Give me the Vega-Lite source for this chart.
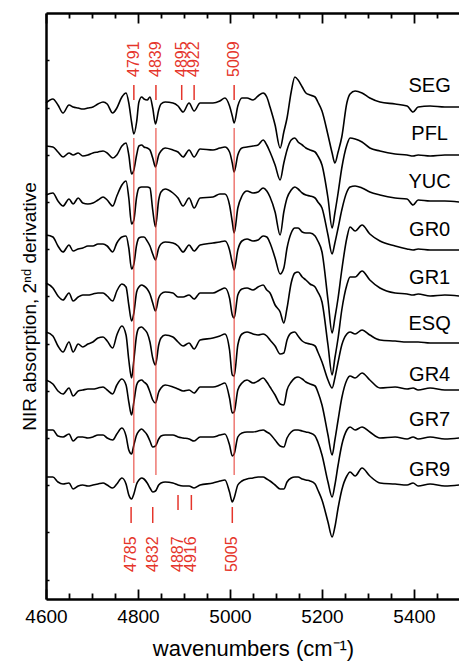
{
"$schema": "https://vega.github.io/schema/vega-lite/v6.json",
"width": 414, "height": 586,
"autosize": {"type": "none"},
"padding": {"left": 46, "top": 13, "right": 0, "bottom": 62},
"config": {"view": {"stroke": null}, "font": "Liberation Sans", "axis": {"grid": false}},
"datasets": {
"spectra": [
{"t":"SEG","w":4600,"v":477},{"t":"SEG","w":4615,"v":481},{"t":"SEG","w":4626,"v":475},{"t":"SEG","w":4637,"v":467},{"t":"SEG","w":4650,"v":475},{"t":"SEG","w":4659,"v":473},{"t":"SEG","w":4670,"v":472},{"t":"SEG","w":4680,"v":471},{"t":"SEG","w":4691,"v":472},{"t":"SEG","w":4702,"v":473},
{"t":"SEG","w":4713,"v":476},{"t":"SEG","w":4724,"v":478},{"t":"SEG","w":4733,"v":476},{"t":"SEG","w":4745,"v":467},{"t":"SEG","w":4754,"v":472},{"t":"SEG","w":4765,"v":483},{"t":"SEG","w":4774,"v":487},{"t":"SEG","w":4780,"v":477},{"t":"SEG","w":4786,"v":458},{"t":"SEG","w":4791,"v":446},
{"t":"SEG","w":4797,"v":458},{"t":"SEG","w":4802,"v":478},{"t":"SEG","w":4808,"v":483},{"t":"SEG","w":4813,"v":481},{"t":"SEG","w":4820,"v":480},{"t":"SEG","w":4826,"v":483},{"t":"SEG","w":4832,"v":472},{"t":"SEG","w":4838,"v":456},{"t":"SEG","w":4845,"v":470},{"t":"SEG","w":4850,"v":476},
{"t":"SEG","w":4859,"v":478},{"t":"SEG","w":4876,"v":477},{"t":"SEG","w":4887,"v":474},{"t":"SEG","w":4898,"v":468},{"t":"SEG","w":4911,"v":477},{"t":"SEG","w":4922,"v":469},{"t":"SEG","w":4935,"v":477},{"t":"SEG","w":4963,"v":477},{"t":"SEG","w":4978,"v":479},{"t":"SEG","w":4989,"v":482},
{"t":"SEG","w":4999,"v":474},{"t":"SEG","w":5005,"v":464},{"t":"SEG","w":5009,"v":457},{"t":"SEG","w":5017,"v":474},{"t":"SEG","w":5026,"v":482},{"t":"SEG","w":5037,"v":482},{"t":"SEG","w":5050,"v":480},{"t":"SEG","w":5061,"v":484},{"t":"SEG","w":5072,"v":487},{"t":"SEG","w":5080,"v":483},
{"t":"SEG","w":5087,"v":473},{"t":"SEG","w":5098,"v":455},{"t":"SEG","w":5109,"v":432},{"t":"SEG","w":5117,"v":448},{"t":"SEG","w":5124,"v":462},{"t":"SEG","w":5133,"v":488},{"t":"SEG","w":5141,"v":503},{"t":"SEG","w":5148,"v":500},{"t":"SEG","w":5157,"v":493},{"t":"SEG","w":5165,"v":487},
{"t":"SEG","w":5174,"v":485},{"t":"SEG","w":5185,"v":483},{"t":"SEG","w":5191,"v":478},{"t":"SEG","w":5200,"v":469},{"t":"SEG","w":5213,"v":445},{"t":"SEG","w":5222,"v":427},{"t":"SEG","w":5228,"v":417},{"t":"SEG","w":5235,"v":428},{"t":"SEG","w":5243,"v":443},{"t":"SEG","w":5254,"v":477},
{"t":"SEG","w":5261,"v":486},{"t":"SEG","w":5272,"v":489},{"t":"SEG","w":5287,"v":487},{"t":"SEG","w":5304,"v":482},{"t":"SEG","w":5326,"v":478},{"t":"SEG","w":5359,"v":476},{"t":"SEG","w":5385,"v":474},{"t":"SEG","w":5398,"v":468},{"t":"SEG","w":5409,"v":473},{"t":"SEG","w":5435,"v":474},
{"t":"SEG","w":5467,"v":473},{"t":"SEG","w":5498,"v":473},
{"t":"PFL","w":4600,"v":434},{"t":"PFL","w":4615,"v":433},{"t":"PFL","w":4626,"v":428},{"t":"PFL","w":4637,"v":423},{"t":"PFL","w":4650,"v":427},{"t":"PFL","w":4659,"v":425},{"t":"PFL","w":4670,"v":427},{"t":"PFL","w":4680,"v":424},{"t":"PFL","w":4691,"v":425},{"t":"PFL","w":4702,"v":427},
{"t":"PFL","w":4713,"v":428},{"t":"PFL","w":4724,"v":429},{"t":"PFL","w":4733,"v":427},{"t":"PFL","w":4745,"v":422},{"t":"PFL","w":4754,"v":425},{"t":"PFL","w":4765,"v":434},{"t":"PFL","w":4774,"v":437},{"t":"PFL","w":4780,"v":425},{"t":"PFL","w":4786,"v":406},{"t":"PFL","w":4791,"v":410},
{"t":"PFL","w":4797,"v":425},{"t":"PFL","w":4802,"v":434},{"t":"PFL","w":4808,"v":435},{"t":"PFL","w":4813,"v":433},{"t":"PFL","w":4820,"v":432},{"t":"PFL","w":4826,"v":430},{"t":"PFL","w":4832,"v":422},{"t":"PFL","w":4838,"v":413},{"t":"PFL","w":4845,"v":425},{"t":"PFL","w":4850,"v":429},
{"t":"PFL","w":4859,"v":432},{"t":"PFL","w":4876,"v":430},{"t":"PFL","w":4887,"v":428},{"t":"PFL","w":4898,"v":423},{"t":"PFL","w":4911,"v":430},{"t":"PFL","w":4922,"v":423},{"t":"PFL","w":4935,"v":431},{"t":"PFL","w":4963,"v":430},{"t":"PFL","w":4978,"v":432},{"t":"PFL","w":4989,"v":433},
{"t":"PFL","w":4999,"v":428},{"t":"PFL","w":5005,"v":417},{"t":"PFL","w":5009,"v":408},{"t":"PFL","w":5017,"v":425},{"t":"PFL","w":5026,"v":432},{"t":"PFL","w":5037,"v":433},{"t":"PFL","w":5050,"v":434},{"t":"PFL","w":5061,"v":435},{"t":"PFL","w":5072,"v":440},{"t":"PFL","w":5080,"v":435},
{"t":"PFL","w":5087,"v":428},{"t":"PFL","w":5098,"v":415},{"t":"PFL","w":5109,"v":400},{"t":"PFL","w":5117,"v":417},{"t":"PFL","w":5124,"v":430},{"t":"PFL","w":5133,"v":440},{"t":"PFL","w":5141,"v":442},{"t":"PFL","w":5148,"v":438},{"t":"PFL","w":5157,"v":435},{"t":"PFL","w":5165,"v":432},
{"t":"PFL","w":5174,"v":430},{"t":"PFL","w":5185,"v":428},{"t":"PFL","w":5191,"v":424},{"t":"PFL","w":5200,"v":415},{"t":"PFL","w":5213,"v":382},{"t":"PFL","w":5222,"v":352},{"t":"PFL","w":5228,"v":367},{"t":"PFL","w":5235,"v":387},{"t":"PFL","w":5243,"v":412},{"t":"PFL","w":5254,"v":435},
{"t":"PFL","w":5261,"v":442},{"t":"PFL","w":5272,"v":441},{"t":"PFL","w":5287,"v":438},{"t":"PFL","w":5304,"v":432},{"t":"PFL","w":5326,"v":429},{"t":"PFL","w":5359,"v":426},{"t":"PFL","w":5385,"v":425},{"t":"PFL","w":5398,"v":424},{"t":"PFL","w":5409,"v":425},{"t":"PFL","w":5435,"v":424},
{"t":"PFL","w":5467,"v":425},{"t":"PFL","w":5498,"v":425},
{"t":"YUC","w":4600,"v":385},{"t":"YUC","w":4615,"v":387},{"t":"YUC","w":4626,"v":379},{"t":"YUC","w":4637,"v":374},{"t":"YUC","w":4650,"v":381},{"t":"YUC","w":4659,"v":376},{"t":"YUC","w":4670,"v":382},{"t":"YUC","w":4680,"v":377},{"t":"YUC","w":4691,"v":376},{"t":"YUC","w":4702,"v":377},
{"t":"YUC","w":4713,"v":380},{"t":"YUC","w":4724,"v":383},{"t":"YUC","w":4733,"v":380},{"t":"YUC","w":4745,"v":374},{"t":"YUC","w":4754,"v":384},{"t":"YUC","w":4765,"v":395},{"t":"YUC","w":4774,"v":399},{"t":"YUC","w":4780,"v":382},{"t":"YUC","w":4786,"v":356},{"t":"YUC","w":4791,"v":360},
{"t":"YUC","w":4797,"v":383},{"t":"YUC","w":4802,"v":392},{"t":"YUC","w":4808,"v":393},{"t":"YUC","w":4813,"v":393},{"t":"YUC","w":4820,"v":393},{"t":"YUC","w":4826,"v":392},{"t":"YUC","w":4832,"v":370},{"t":"YUC","w":4838,"v":353},{"t":"YUC","w":4845,"v":380},{"t":"YUC","w":4850,"v":388},
{"t":"YUC","w":4859,"v":391},{"t":"YUC","w":4876,"v":387},{"t":"YUC","w":4887,"v":382},{"t":"YUC","w":4898,"v":374},{"t":"YUC","w":4911,"v":382},{"t":"YUC","w":4922,"v":372},{"t":"YUC","w":4935,"v":382},{"t":"YUC","w":4963,"v":383},{"t":"YUC","w":4978,"v":386},{"t":"YUC","w":4989,"v":386},
{"t":"YUC","w":4999,"v":375},{"t":"YUC","w":5005,"v":358},{"t":"YUC","w":5009,"v":347},{"t":"YUC","w":5017,"v":372},{"t":"YUC","w":5026,"v":384},{"t":"YUC","w":5037,"v":389},{"t":"YUC","w":5050,"v":387},{"t":"YUC","w":5061,"v":388},{"t":"YUC","w":5072,"v":392},{"t":"YUC","w":5080,"v":389},
{"t":"YUC","w":5087,"v":383},{"t":"YUC","w":5098,"v":368},{"t":"YUC","w":5109,"v":345},{"t":"YUC","w":5117,"v":368},{"t":"YUC","w":5124,"v":382},{"t":"YUC","w":5133,"v":390},{"t":"YUC","w":5141,"v":393},{"t":"YUC","w":5148,"v":391},{"t":"YUC","w":5157,"v":387},{"t":"YUC","w":5165,"v":385},
{"t":"YUC","w":5174,"v":384},{"t":"YUC","w":5185,"v":382},{"t":"YUC","w":5191,"v":378},{"t":"YUC","w":5200,"v":372},{"t":"YUC","w":5213,"v":345},{"t":"YUC","w":5222,"v":326},{"t":"YUC","w":5228,"v":337},{"t":"YUC","w":5235,"v":352},{"t":"YUC","w":5243,"v":370},{"t":"YUC","w":5254,"v":388},
{"t":"YUC","w":5261,"v":393},{"t":"YUC","w":5272,"v":394},{"t":"YUC","w":5287,"v":392},{"t":"YUC","w":5304,"v":388},{"t":"YUC","w":5326,"v":385},{"t":"YUC","w":5359,"v":382},{"t":"YUC","w":5385,"v":381},{"t":"YUC","w":5398,"v":375},{"t":"YUC","w":5409,"v":380},{"t":"YUC","w":5435,"v":379},
{"t":"YUC","w":5467,"v":379},{"t":"YUC","w":5498,"v":378},
{"t":"GR0","w":4600,"v":345},{"t":"GR0","w":4615,"v":343},{"t":"GR0","w":4626,"v":334},{"t":"GR0","w":4637,"v":328},{"t":"GR0","w":4650,"v":335},{"t":"GR0","w":4659,"v":329},{"t":"GR0","w":4670,"v":331},{"t":"GR0","w":4680,"v":332},{"t":"GR0","w":4691,"v":334},{"t":"GR0","w":4702,"v":334},
{"t":"GR0","w":4713,"v":336},{"t":"GR0","w":4724,"v":336},{"t":"GR0","w":4733,"v":334},{"t":"GR0","w":4745,"v":328},{"t":"GR0","w":4754,"v":337},{"t":"GR0","w":4765,"v":343},{"t":"GR0","w":4774,"v":344},{"t":"GR0","w":4780,"v":332},{"t":"GR0","w":4786,"v":311},{"t":"GR0","w":4791,"v":316},
{"t":"GR0","w":4797,"v":335},{"t":"GR0","w":4802,"v":342},{"t":"GR0","w":4808,"v":343},{"t":"GR0","w":4813,"v":343},{"t":"GR0","w":4820,"v":339},{"t":"GR0","w":4826,"v":334},{"t":"GR0","w":4832,"v":326},{"t":"GR0","w":4838,"v":320},{"t":"GR0","w":4845,"v":332},{"t":"GR0","w":4850,"v":336},
{"t":"GR0","w":4859,"v":338},{"t":"GR0","w":4876,"v":337},{"t":"GR0","w":4887,"v":334},{"t":"GR0","w":4898,"v":328},{"t":"GR0","w":4911,"v":335},{"t":"GR0","w":4922,"v":329},{"t":"GR0","w":4935,"v":335},{"t":"GR0","w":4963,"v":337},{"t":"GR0","w":4978,"v":338},{"t":"GR0","w":4989,"v":339},
{"t":"GR0","w":4999,"v":330},{"t":"GR0","w":5005,"v":317},{"t":"GR0","w":5009,"v":310},{"t":"GR0","w":5017,"v":330},{"t":"GR0","w":5026,"v":339},{"t":"GR0","w":5037,"v":341},{"t":"GR0","w":5050,"v":339},{"t":"GR0","w":5061,"v":340},{"t":"GR0","w":5072,"v":344},{"t":"GR0","w":5080,"v":343},
{"t":"GR0","w":5087,"v":337},{"t":"GR0","w":5098,"v":322},{"t":"GR0","w":5109,"v":306},{"t":"GR0","w":5117,"v":312},{"t":"GR0","w":5124,"v":332},{"t":"GR0","w":5133,"v":347},{"t":"GR0","w":5141,"v":352},{"t":"GR0","w":5148,"v":352},{"t":"GR0","w":5157,"v":348},{"t":"GR0","w":5165,"v":347},
{"t":"GR0","w":5174,"v":347},{"t":"GR0","w":5185,"v":344},{"t":"GR0","w":5191,"v":339},{"t":"GR0","w":5200,"v":328},{"t":"GR0","w":5213,"v":280},{"t":"GR0","w":5222,"v":247},{"t":"GR0","w":5228,"v":262},{"t":"GR0","w":5235,"v":282},{"t":"GR0","w":5243,"v":310},{"t":"GR0","w":5254,"v":342},
{"t":"GR0","w":5261,"v":353},{"t":"GR0","w":5272,"v":349},{"t":"GR0","w":5287,"v":355},{"t":"GR0","w":5304,"v":346},{"t":"GR0","w":5326,"v":339},{"t":"GR0","w":5359,"v":334},{"t":"GR0","w":5385,"v":331},{"t":"GR0","w":5398,"v":330},{"t":"GR0","w":5409,"v":331},{"t":"GR0","w":5435,"v":330},
{"t":"GR0","w":5467,"v":330},{"t":"GR0","w":5498,"v":330},
{"t":"GR1","w":4600,"v":297},{"t":"GR1","w":4615,"v":292},{"t":"GR1","w":4626,"v":284},{"t":"GR1","w":4637,"v":280},{"t":"GR1","w":4650,"v":287},{"t":"GR1","w":4659,"v":279},{"t":"GR1","w":4670,"v":283},{"t":"GR1","w":4680,"v":285},{"t":"GR1","w":4691,"v":285},{"t":"GR1","w":4702,"v":286},
{"t":"GR1","w":4713,"v":287},{"t":"GR1","w":4724,"v":287},{"t":"GR1","w":4733,"v":284},{"t":"GR1","w":4745,"v":279},{"t":"GR1","w":4754,"v":289},{"t":"GR1","w":4765,"v":296},{"t":"GR1","w":4774,"v":293},{"t":"GR1","w":4780,"v":275},{"t":"GR1","w":4786,"v":259},{"t":"GR1","w":4791,"v":267},
{"t":"GR1","w":4797,"v":288},{"t":"GR1","w":4802,"v":293},{"t":"GR1","w":4808,"v":295},{"t":"GR1","w":4813,"v":294},{"t":"GR1","w":4820,"v":291},{"t":"GR1","w":4826,"v":286},{"t":"GR1","w":4832,"v":277},{"t":"GR1","w":4838,"v":269},{"t":"GR1","w":4845,"v":282},{"t":"GR1","w":4850,"v":286},
{"t":"GR1","w":4859,"v":288},{"t":"GR1","w":4876,"v":287},{"t":"GR1","w":4887,"v":283},{"t":"GR1","w":4898,"v":283},{"t":"GR1","w":4911,"v":285},{"t":"GR1","w":4922,"v":281},{"t":"GR1","w":4935,"v":287},{"t":"GR1","w":4963,"v":287},{"t":"GR1","w":4978,"v":290},{"t":"GR1","w":4989,"v":292},
{"t":"GR1","w":4999,"v":282},{"t":"GR1","w":5005,"v":265},{"t":"GR1","w":5009,"v":262},{"t":"GR1","w":5017,"v":285},{"t":"GR1","w":5026,"v":291},{"t":"GR1","w":5037,"v":292},{"t":"GR1","w":5050,"v":290},{"t":"GR1","w":5061,"v":293},{"t":"GR1","w":5072,"v":295},{"t":"GR1","w":5080,"v":290},
{"t":"GR1","w":5087,"v":287},{"t":"GR1","w":5098,"v":275},{"t":"GR1","w":5109,"v":268},{"t":"GR1","w":5117,"v":257},{"t":"GR1","w":5124,"v":272},{"t":"GR1","w":5133,"v":297},{"t":"GR1","w":5141,"v":307},{"t":"GR1","w":5148,"v":308},{"t":"GR1","w":5157,"v":303},{"t":"GR1","w":5165,"v":300},
{"t":"GR1","w":5174,"v":296},{"t":"GR1","w":5185,"v":293},{"t":"GR1","w":5191,"v":288},{"t":"GR1","w":5200,"v":278},{"t":"GR1","w":5213,"v":235},{"t":"GR1","w":5222,"v":205},{"t":"GR1","w":5228,"v":222},{"t":"GR1","w":5235,"v":242},{"t":"GR1","w":5243,"v":270},{"t":"GR1","w":5254,"v":295},
{"t":"GR1","w":5261,"v":303},{"t":"GR1","w":5272,"v":303},{"t":"GR1","w":5287,"v":309},{"t":"GR1","w":5304,"v":300},{"t":"GR1","w":5326,"v":292},{"t":"GR1","w":5359,"v":287},{"t":"GR1","w":5385,"v":286},{"t":"GR1","w":5398,"v":285},{"t":"GR1","w":5409,"v":286},{"t":"GR1","w":5435,"v":284},
{"t":"GR1","w":5467,"v":285},{"t":"GR1","w":5498,"v":284},
{"t":"ESQ","w":4600,"v":248},{"t":"ESQ","w":4615,"v":244},{"t":"ESQ","w":4626,"v":234},{"t":"ESQ","w":4637,"v":228},{"t":"ESQ","w":4650,"v":238},{"t":"ESQ","w":4659,"v":228},{"t":"ESQ","w":4670,"v":236},{"t":"ESQ","w":4680,"v":233},{"t":"ESQ","w":4691,"v":236},{"t":"ESQ","w":4702,"v":238},
{"t":"ESQ","w":4713,"v":242},{"t":"ESQ","w":4724,"v":243},{"t":"ESQ","w":4733,"v":239},{"t":"ESQ","w":4745,"v":232},{"t":"ESQ","w":4754,"v":245},{"t":"ESQ","w":4765,"v":254},{"t":"ESQ","w":4774,"v":245},{"t":"ESQ","w":4780,"v":220},{"t":"ESQ","w":4786,"v":202},{"t":"ESQ","w":4791,"v":220},
{"t":"ESQ","w":4797,"v":245},{"t":"ESQ","w":4802,"v":252},{"t":"ESQ","w":4808,"v":253},{"t":"ESQ","w":4813,"v":251},{"t":"ESQ","w":4820,"v":247},{"t":"ESQ","w":4826,"v":238},{"t":"ESQ","w":4832,"v":222},{"t":"ESQ","w":4838,"v":215},{"t":"ESQ","w":4845,"v":235},{"t":"ESQ","w":4850,"v":242},
{"t":"ESQ","w":4859,"v":245},{"t":"ESQ","w":4876,"v":243},{"t":"ESQ","w":4887,"v":238},{"t":"ESQ","w":4898,"v":234},{"t":"ESQ","w":4911,"v":237},{"t":"ESQ","w":4922,"v":231},{"t":"ESQ","w":4935,"v":240},{"t":"ESQ","w":4963,"v":242},{"t":"ESQ","w":4978,"v":244},{"t":"ESQ","w":4989,"v":246},
{"t":"ESQ","w":4999,"v":230},{"t":"ESQ","w":5005,"v":205},{"t":"ESQ","w":5009,"v":204},{"t":"ESQ","w":5017,"v":235},{"t":"ESQ","w":5026,"v":246},{"t":"ESQ","w":5037,"v":248},{"t":"ESQ","w":5050,"v":246},{"t":"ESQ","w":5061,"v":245},{"t":"ESQ","w":5072,"v":246},{"t":"ESQ","w":5080,"v":244},
{"t":"ESQ","w":5087,"v":240},{"t":"ESQ","w":5098,"v":234},{"t":"ESQ","w":5109,"v":226},{"t":"ESQ","w":5117,"v":227},{"t":"ESQ","w":5124,"v":240},{"t":"ESQ","w":5133,"v":247},{"t":"ESQ","w":5141,"v":248},{"t":"ESQ","w":5148,"v":244},{"t":"ESQ","w":5157,"v":239},{"t":"ESQ","w":5165,"v":237},
{"t":"ESQ","w":5174,"v":236},{"t":"ESQ","w":5185,"v":234},{"t":"ESQ","w":5191,"v":228},{"t":"ESQ","w":5200,"v":218},{"t":"ESQ","w":5213,"v":200},{"t":"ESQ","w":5222,"v":192},{"t":"ESQ","w":5228,"v":202},{"t":"ESQ","w":5235,"v":218},{"t":"ESQ","w":5243,"v":235},{"t":"ESQ","w":5254,"v":246},
{"t":"ESQ","w":5261,"v":248},{"t":"ESQ","w":5272,"v":246},{"t":"ESQ","w":5287,"v":250},{"t":"ESQ","w":5304,"v":245},{"t":"ESQ","w":5326,"v":240},{"t":"ESQ","w":5359,"v":239},{"t":"ESQ","w":5385,"v":238},{"t":"ESQ","w":5398,"v":238},{"t":"ESQ","w":5409,"v":238},{"t":"ESQ","w":5435,"v":237},
{"t":"ESQ","w":5467,"v":237},{"t":"ESQ","w":5498,"v":237},
{"t":"GR4","w":4600,"v":200},{"t":"GR4","w":4615,"v":196},{"t":"GR4","w":4626,"v":189},{"t":"GR4","w":4637,"v":186},{"t":"GR4","w":4650,"v":192},{"t":"GR4","w":4659,"v":184},{"t":"GR4","w":4670,"v":189},{"t":"GR4","w":4680,"v":190},{"t":"GR4","w":4691,"v":191},{"t":"GR4","w":4702,"v":191},
{"t":"GR4","w":4713,"v":192},{"t":"GR4","w":4724,"v":193},{"t":"GR4","w":4733,"v":190},{"t":"GR4","w":4745,"v":186},{"t":"GR4","w":4754,"v":195},{"t":"GR4","w":4765,"v":201},{"t":"GR4","w":4774,"v":195},{"t":"GR4","w":4780,"v":178},{"t":"GR4","w":4786,"v":165},{"t":"GR4","w":4791,"v":178},
{"t":"GR4","w":4797,"v":195},{"t":"GR4","w":4802,"v":199},{"t":"GR4","w":4808,"v":200},{"t":"GR4","w":4813,"v":198},{"t":"GR4","w":4820,"v":195},{"t":"GR4","w":4826,"v":188},{"t":"GR4","w":4832,"v":180},{"t":"GR4","w":4838,"v":177},{"t":"GR4","w":4845,"v":188},{"t":"GR4","w":4850,"v":192},
{"t":"GR4","w":4859,"v":195},{"t":"GR4","w":4876,"v":193},{"t":"GR4","w":4887,"v":191},{"t":"GR4","w":4898,"v":189},{"t":"GR4","w":4911,"v":190},{"t":"GR4","w":4922,"v":187},{"t":"GR4","w":4935,"v":193},{"t":"GR4","w":4963,"v":193},{"t":"GR4","w":4978,"v":195},{"t":"GR4","w":4989,"v":197},
{"t":"GR4","w":4999,"v":182},{"t":"GR4","w":5005,"v":167},{"t":"GR4","w":5009,"v":168},{"t":"GR4","w":5017,"v":190},{"t":"GR4","w":5026,"v":197},{"t":"GR4","w":5037,"v":200},{"t":"GR4","w":5050,"v":197},{"t":"GR4","w":5061,"v":199},{"t":"GR4","w":5072,"v":202},{"t":"GR4","w":5080,"v":198},
{"t":"GR4","w":5087,"v":193},{"t":"GR4","w":5098,"v":185},{"t":"GR4","w":5109,"v":176},{"t":"GR4","w":5117,"v":175},{"t":"GR4","w":5124,"v":190},{"t":"GR4","w":5133,"v":198},{"t":"GR4","w":5141,"v":202},{"t":"GR4","w":5148,"v":203},{"t":"GR4","w":5157,"v":201},{"t":"GR4","w":5165,"v":198},
{"t":"GR4","w":5174,"v":196},{"t":"GR4","w":5185,"v":194},{"t":"GR4","w":5191,"v":188},{"t":"GR4","w":5200,"v":175},{"t":"GR4","w":5213,"v":145},{"t":"GR4","w":5222,"v":125},{"t":"GR4","w":5228,"v":140},{"t":"GR4","w":5235,"v":160},{"t":"GR4","w":5243,"v":182},{"t":"GR4","w":5254,"v":200},
{"t":"GR4","w":5261,"v":204},{"t":"GR4","w":5272,"v":202},{"t":"GR4","w":5287,"v":207},{"t":"GR4","w":5304,"v":200},{"t":"GR4","w":5326,"v":192},{"t":"GR4","w":5359,"v":193},{"t":"GR4","w":5385,"v":191},{"t":"GR4","w":5398,"v":192},{"t":"GR4","w":5409,"v":190},{"t":"GR4","w":5435,"v":192},
{"t":"GR4","w":5467,"v":190},{"t":"GR4","w":5498,"v":190},
{"t":"GR7","w":4600,"v":150},{"t":"GR7","w":4615,"v":150},{"t":"GR7","w":4626,"v":144},{"t":"GR7","w":4637,"v":143},{"t":"GR7","w":4650,"v":146},{"t":"GR7","w":4659,"v":139},{"t":"GR7","w":4670,"v":143},{"t":"GR7","w":4680,"v":143},{"t":"GR7","w":4691,"v":142},{"t":"GR7","w":4702,"v":143},
{"t":"GR7","w":4713,"v":145},{"t":"GR7","w":4724,"v":145},{"t":"GR7","w":4733,"v":142},{"t":"GR7","w":4745,"v":140},{"t":"GR7","w":4754,"v":146},{"t":"GR7","w":4765,"v":152},{"t":"GR7","w":4774,"v":144},{"t":"GR7","w":4780,"v":130},{"t":"GR7","w":4786,"v":126},{"t":"GR7","w":4791,"v":135},
{"t":"GR7","w":4797,"v":145},{"t":"GR7","w":4802,"v":149},{"t":"GR7","w":4808,"v":151},{"t":"GR7","w":4813,"v":149},{"t":"GR7","w":4820,"v":145},{"t":"GR7","w":4826,"v":139},{"t":"GR7","w":4832,"v":133},{"t":"GR7","w":4838,"v":134},{"t":"GR7","w":4845,"v":141},{"t":"GR7","w":4850,"v":144},
{"t":"GR7","w":4859,"v":145},{"t":"GR7","w":4876,"v":145},{"t":"GR7","w":4887,"v":143},{"t":"GR7","w":4898,"v":142},{"t":"GR7","w":4911,"v":141},{"t":"GR7","w":4922,"v":139},{"t":"GR7","w":4935,"v":143},{"t":"GR7","w":4963,"v":143},{"t":"GR7","w":4978,"v":145},{"t":"GR7","w":4989,"v":146},
{"t":"GR7","w":4999,"v":135},{"t":"GR7","w":5005,"v":124},{"t":"GR7","w":5009,"v":126},{"t":"GR7","w":5017,"v":143},{"t":"GR7","w":5026,"v":147},{"t":"GR7","w":5037,"v":148},{"t":"GR7","w":5050,"v":148},{"t":"GR7","w":5061,"v":149},{"t":"GR7","w":5072,"v":150},{"t":"GR7","w":5080,"v":148},
{"t":"GR7","w":5087,"v":146},{"t":"GR7","w":5098,"v":140},{"t":"GR7","w":5109,"v":134},{"t":"GR7","w":5117,"v":133},{"t":"GR7","w":5124,"v":142},{"t":"GR7","w":5133,"v":148},{"t":"GR7","w":5141,"v":150},{"t":"GR7","w":5148,"v":150},{"t":"GR7","w":5157,"v":149},{"t":"GR7","w":5165,"v":148},
{"t":"GR7","w":5174,"v":147},{"t":"GR7","w":5185,"v":144},{"t":"GR7","w":5191,"v":138},{"t":"GR7","w":5200,"v":125},{"t":"GR7","w":5213,"v":98},{"t":"GR7","w":5222,"v":83},{"t":"GR7","w":5228,"v":95},{"t":"GR7","w":5235,"v":115},{"t":"GR7","w":5243,"v":135},{"t":"GR7","w":5254,"v":150},
{"t":"GR7","w":5261,"v":153},{"t":"GR7","w":5272,"v":150},{"t":"GR7","w":5287,"v":153},{"t":"GR7","w":5304,"v":148},{"t":"GR7","w":5326,"v":142},{"t":"GR7","w":5359,"v":143},{"t":"GR7","w":5385,"v":141},{"t":"GR7","w":5398,"v":143},{"t":"GR7","w":5409,"v":141},{"t":"GR7","w":5435,"v":143},
{"t":"GR7","w":5467,"v":141},{"t":"GR7","w":5498,"v":142},
{"t":"GR9","w":4600,"v":103},{"t":"GR9","w":4615,"v":103},{"t":"GR9","w":4626,"v":98},{"t":"GR9","w":4637,"v":96},{"t":"GR9","w":4650,"v":97},{"t":"GR9","w":4659,"v":91},{"t":"GR9","w":4670,"v":94},{"t":"GR9","w":4680,"v":95},{"t":"GR9","w":4691,"v":94},{"t":"GR9","w":4702,"v":95},
{"t":"GR9","w":4713,"v":96},{"t":"GR9","w":4724,"v":97},{"t":"GR9","w":4733,"v":95},{"t":"GR9","w":4745,"v":92},{"t":"GR9","w":4754,"v":96},{"t":"GR9","w":4765,"v":102},{"t":"GR9","w":4774,"v":96},{"t":"GR9","w":4780,"v":85},{"t":"GR9","w":4786,"v":81},{"t":"GR9","w":4791,"v":86},
{"t":"GR9","w":4797,"v":96},{"t":"GR9","w":4802,"v":100},{"t":"GR9","w":4808,"v":102},{"t":"GR9","w":4813,"v":101},{"t":"GR9","w":4820,"v":97},{"t":"GR9","w":4826,"v":92},{"t":"GR9","w":4832,"v":88},{"t":"GR9","w":4838,"v":89},{"t":"GR9","w":4845,"v":95},{"t":"GR9","w":4850,"v":97},
{"t":"GR9","w":4859,"v":98},{"t":"GR9","w":4876,"v":97},{"t":"GR9","w":4887,"v":95},{"t":"GR9","w":4898,"v":94},{"t":"GR9","w":4911,"v":94},{"t":"GR9","w":4922,"v":92},{"t":"GR9","w":4935,"v":95},{"t":"GR9","w":4963,"v":97},{"t":"GR9","w":4978,"v":99},{"t":"GR9","w":4989,"v":100},
{"t":"GR9","w":4999,"v":88},{"t":"GR9","w":5005,"v":78},{"t":"GR9","w":5009,"v":82},{"t":"GR9","w":5017,"v":95},{"t":"GR9","w":5026,"v":99},{"t":"GR9","w":5037,"v":101},{"t":"GR9","w":5050,"v":102},{"t":"GR9","w":5061,"v":103},{"t":"GR9","w":5072,"v":103},{"t":"GR9","w":5080,"v":101},
{"t":"GR9","w":5087,"v":99},{"t":"GR9","w":5098,"v":95},{"t":"GR9","w":5109,"v":91},{"t":"GR9","w":5117,"v":91},{"t":"GR9","w":5124,"v":98},{"t":"GR9","w":5133,"v":102},{"t":"GR9","w":5141,"v":103},{"t":"GR9","w":5148,"v":103},{"t":"GR9","w":5157,"v":101},{"t":"GR9","w":5165,"v":100},
{"t":"GR9","w":5174,"v":99},{"t":"GR9","w":5185,"v":96},{"t":"GR9","w":5191,"v":90},{"t":"GR9","w":5200,"v":80},{"t":"GR9","w":5213,"v":58},{"t":"GR9","w":5222,"v":43},{"t":"GR9","w":5228,"v":53},{"t":"GR9","w":5235,"v":72},{"t":"GR9","w":5243,"v":90},{"t":"GR9","w":5254,"v":104},
{"t":"GR9","w":5261,"v":108},{"t":"GR9","w":5272,"v":104},{"t":"GR9","w":5287,"v":112},{"t":"GR9","w":5304,"v":104},{"t":"GR9","w":5326,"v":97},{"t":"GR9","w":5359,"v":96},{"t":"GR9","w":5385,"v":95},{"t":"GR9","w":5398,"v":97},{"t":"GR9","w":5409,"v":94},{"t":"GR9","w":5435,"v":96},
{"t":"GR9","w":5467,"v":94},{"t":"GR9","w":5498,"v":95}
],
"guides": [{"w":4791,"a":442,"b":97},{"w":4839,"a":452,"b":105},{"w":5009,"a":452,"b":105}],
"marks": [
{"w":4791,"a":495,"b":480},{"w":4839,"a":495,"b":480},{"w":4895,"a":495,"b":480},{"w":4922,"a":495,"b":480},{"w":5009,"a":495,"b":480},
{"w":4785,"a":73,"b":57},{"w":4832,"a":73,"b":57},{"w":4887,"a":85,"b":70},{"w":4916,"a":85,"b":70},{"w":5005,"a":73,"b":57}
],
"peaks": [
{"w":4791,"v":503,"s":"4791"},{"w":4839,"v":503,"s":"4839"},{"w":4895,"v":503,"s":"4895"},{"w":4922,"v":503,"s":"4922"},{"w":5009,"v":503,"s":"5009"},
{"w":4785,"v":8,"s":"4785"},{"w":4832,"v":8,"s":"4832"},{"w":4887,"v":8,"s":"4887"},{"w":4916,"v":8,"s":"4916"},{"w":5005,"v":8,"s":"5005"}
],
"names": [
{"t":"SEG","w":5434,"v":494},{"t":"PFL","w":5434,"v":446},{"t":"YUC","w":5434,"v":398},{"t":"GR0","w":5434,"v":350},{"t":"GR1","w":5434,"v":302},{"t":"ESQ","w":5434,"v":256},{"t":"GR4","w":5434,"v":205},{"t":"GR7","w":5434,"v":160},{"t":"GR9","w":5434,"v":110}
]
},
"resolve": {"axis": {"x": "independent"}},
"layer": [
{"data": {"name": "spectra"},
 "mark": {"type": "line", "interpolate": "monotone", "color": "black", "strokeWidth": 1.6},
 "encoding": {
  "x": {"field": "w", "type": "quantitative", "scale": {"domain": [4600, 5500], "nice": false, "zero": false},
   "axis": {"orient": "bottom", "values": [4600,4650,4700,4750,4800,4850,4900,4950,5000,5050,5100,5150,5200,5250,5300,5350,5400,5450],
    "format": "d", "labelExpr": "datum.value % 200 === 0 ? datum.label : ''",
    "tickSize": {"condition": {"test": "datum.value % 200 === 0", "value": -10}, "value": -6},
    "tickWidth": 1.8, "tickColor": "black", "domainColor": "black", "domainWidth": 2.5,
    "labelFont": "Liberation Sans", "labelFontSize": 19, "labelColor": "black", "labelPadding": 18, "labelFlush": false, "labelOverlap": false,
    "title": "wavenumbers (cm⁻¹)", "titleFont": "Liberation Sans", "titleFontSize": 22, "titleFontWeight": "normal", "titleColor": "black", "titlePadding": 8}},
  "y": {"field": "v", "type": "quantitative", "scale": {"domain": [-19, 567], "nice": false, "zero": false},
   "axis": {"orient": "left", "values": [0.5,47.7,94.9,142.1,189.3,236.5,283.7,330.9,378.1,425.3,472.5,519.7],
    "labels": false, "tickSize": -3, "tickWidth": 1.5, "tickColor": "black", "domainColor": "black", "domainWidth": 2.5,
    "title": "NIR absorption, 2ⁿᵈ derivative", "titleFont": "Liberation Sans", "titleFontSize": 19, "titleFontWeight": "normal", "titleColor": "black", "titlePadding": 6}},
  "detail": {"field": "t", "type": "nominal"}
 }},
{"data": {"name": "guides"},
 "mark": {"type": "rule", "color": "#e5352b", "strokeWidth": 1},
 "encoding": {
  "x": {"field": "w", "type": "quantitative", "scale": {"domain": [4600, 5500], "nice": false, "zero": false},
   "axis": {"orient": "top", "values": [4600,4650,4700,4750,4800,4850,4900,4950,5000,5050,5100,5150,5200,5250,5300,5350,5400,5450],
    "labels": false, "tickSize": {"condition": {"test": "datum.value % 200 === 0", "value": -10}, "value": -5},
    "tickWidth": 1.8, "tickColor": "black", "domainColor": "black", "domainWidth": 2.5, "title": null}},
  "y": {"field": "a", "type": "quantitative", "scale": {"domain": [-19, 567], "nice": false, "zero": false}},
  "y2": {"field": "b"}
 }},
{"data": {"name": "marks"},
 "mark": {"type": "rule", "color": "#e5352b", "strokeWidth": 1.5},
 "encoding": {
  "x": {"field": "w", "type": "quantitative", "scale": {"domain": [4600, 5500], "nice": false, "zero": false}, "axis": null},
  "y": {"field": "a", "type": "quantitative", "scale": {"domain": [-19, 567], "nice": false, "zero": false}},
  "y2": {"field": "b"}
 }},
{"data": {"name": "peaks"},
 "mark": {"type": "text", "angle": 270, "align": "left", "baseline": "middle", "color": "#e5352b", "fontSize": 16, "font": "Liberation Sans"},
 "encoding": {
  "x": {"field": "w", "type": "quantitative", "scale": {"domain": [4600, 5500], "nice": false, "zero": false}, "axis": null},
  "y": {"field": "v", "type": "quantitative", "scale": {"domain": [-19, 567], "nice": false, "zero": false}},
  "text": {"field": "s", "type": "nominal"}
 }},
{"data": {"name": "names"},
 "mark": {"type": "text", "align": "center", "baseline": "middle", "color": "black", "fontSize": 20, "font": "Liberation Sans"},
 "encoding": {
  "x": {"field": "w", "type": "quantitative", "scale": {"domain": [4600, 5500], "nice": false, "zero": false}, "axis": null},
  "y": {"field": "v", "type": "quantitative", "scale": {"domain": [-19, 567], "nice": false, "zero": false}},
  "text": {"field": "t", "type": "nominal"}
 }}
]
}
